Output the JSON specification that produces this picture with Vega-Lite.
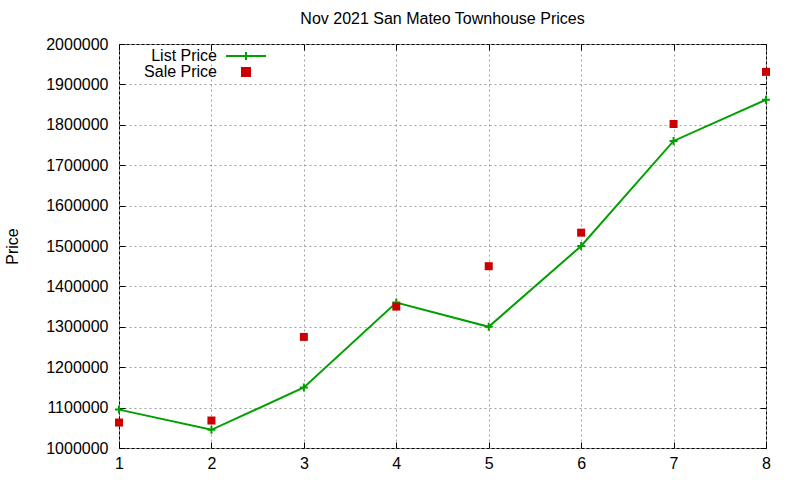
{
  "$schema": "https://vega.github.io/schema/vega-lite/v6.json",
  "width": 647,
  "height": 404,
  "autosize": {"type": "none"},
  "padding": {"left": 119, "top": 44, "right": 34, "bottom": 32},
  "background": "white",
  "config": {
    "font": "Liberation Sans",
    "view": {"stroke": "black", "strokeWidth": 1},
    "axis": {
      "labelFont": "Liberation Sans",
      "labelFontSize": 16,
      "labelColor": "black",
      "labelOverlap": false,
      "labelFlush": false,
      "titleFont": "Liberation Sans",
      "titleFontSize": 16,
      "titleFontWeight": "normal",
      "titleColor": "black",
      "domain": false,
      "grid": true,
      "gridColor": "#a0a0a0",
      "gridDash": [2, 3],
      "gridWidth": 1,
      "tickColor": "black",
      "tickSize": -6,
      "labelPadding": 17
    }
  },
  "title": {
    "text": "Nov 2021 San Mateo Townhouse Prices",
    "font": "Liberation Sans",
    "fontSize": 16,
    "fontWeight": "normal",
    "color": "black",
    "anchor": "middle",
    "offset": 9
  },
  "data": {
    "values": [
      {"unit": 1, "price": 1095000, "series": "List Price"},
      {"unit": 2, "price": 1045000, "series": "List Price"},
      {"unit": 3, "price": 1150000, "series": "List Price"},
      {"unit": 4, "price": 1360000, "series": "List Price"},
      {"unit": 5, "price": 1300000, "series": "List Price"},
      {"unit": 6, "price": 1500000, "series": "List Price"},
      {"unit": 7, "price": 1760000, "series": "List Price"},
      {"unit": 8, "price": 1862000, "series": "List Price"},
      {"unit": 1, "price": 1063000, "series": "Sale Price"},
      {"unit": 2, "price": 1068000, "series": "Sale Price"},
      {"unit": 3, "price": 1275000, "series": "Sale Price"},
      {"unit": 4, "price": 1350000, "series": "Sale Price"},
      {"unit": 5, "price": 1450000, "series": "Sale Price"},
      {"unit": 6, "price": 1533000, "series": "Sale Price"},
      {"unit": 7, "price": 1802000, "series": "Sale Price"},
      {"unit": 8, "price": 1931000, "series": "Sale Price"}
    ]
  },
  "encoding": {
    "x": {
      "field": "unit",
      "type": "quantitative",
      "scale": {"domain": [1, 8], "nice": false, "zero": false}
    },
    "y": {
      "field": "price",
      "type": "quantitative",
      "scale": {"domain": [1000000, 2000000], "nice": false, "zero": false}
    }
  },
  "layer": [
    {
      "transform": [{"filter": "datum.series === 'List Price'"}],
      "mark": {"type": "line", "color": "#00a000", "strokeWidth": 2},
      "encoding": {
        "x": {"field": "unit", "type": "quantitative", "axis": {"orient": "bottom", "values": [1, 2, 3, 4, 5, 6, 7, 8], "title": null, "format": "d", "labelPadding": 13}},
        "y": {"field": "price", "type": "quantitative", "axis": {"orient": "left", "values": [1000000, 1100000, 1200000, 1300000, 1400000, 1500000, 1600000, 1700000, 1800000, 1900000, 2000000], "format": "d", "title": "Price", "titlePadding": 25}}
      }
    },
    {
      "transform": [{"filter": "datum.series === 'List Price'"}],
      "mark": {"type": "point", "shape": "M-1,0L1,0M0,-1L0,1", "filled": false, "color": "#00a000", "strokeWidth": 2, "size": 64, "opacity": 1},
      "encoding": {
        "x": {"field": "unit", "type": "quantitative", "axis": {"orient": "top", "values": [1, 2, 3, 4, 5, 6, 7, 8], "labels": false, "grid": false, "title": null}},
        "y": {"field": "price", "type": "quantitative", "axis": {"orient": "right", "values": [1000000, 1100000, 1200000, 1300000, 1400000, 1500000, 1600000, 1700000, 1800000, 1900000, 2000000], "labels": false, "grid": false, "title": null}}
      }
    },
    {
      "transform": [{"filter": "datum.series === 'Sale Price'"}],
      "mark": {"type": "point", "filled": true, "opacity": 1, "size": 64},
      "encoding": {
        "x": {"field": "unit", "type": "quantitative", "axis": null},
        "y": {"field": "price", "type": "quantitative", "axis": null},
        "color": {
          "field": "series",
          "type": "nominal",
          "scale": {"domain": ["List Price", "Sale Price"], "range": ["#00a000", "#cc0000"]},
          "legend": {
            "title": null,
            "orient": "none",
            "legendX": 119,
            "legendY": 4,
            "labelAlign": "right",
            "labelOffset": -37,
            "labelFont": "Liberation Sans",
            "labelFontSize": 16,
            "labelColor": "black",
            "symbolSize": 64,
            "rowPadding": 0,
            "symbolStrokeWidth": 2,
            "symbolOpacity": 1,
            "encode": {
              "symbols": {"update": {"stroke": {"scale": "color", "field": "value"}, "strokeWidth": {"value": 2}}}
            }
          }
        },
        "shape": {
          "field": "series",
          "type": "nominal",
          "scale": {"domain": ["List Price", "Sale Price"], "range": ["M-5,0L5,0M0,-1L0,1", "square"]}
        }
      }
    }
  ],
  "resolve": {"axis": {"x": "independent", "y": "independent"}}
}
